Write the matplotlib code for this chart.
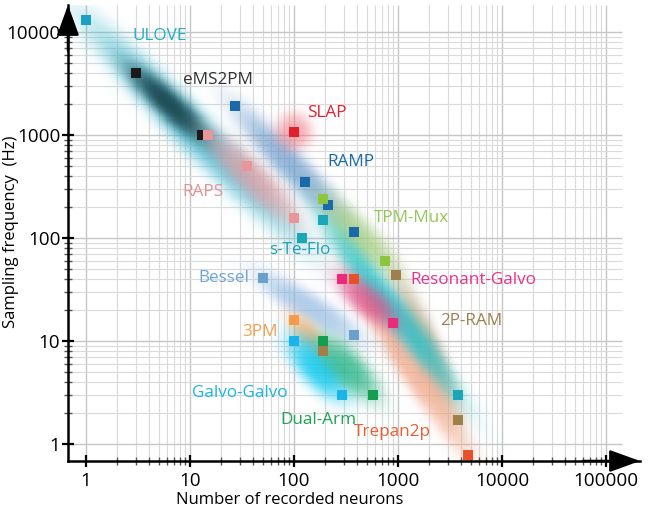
import numpy as np
import matplotlib
matplotlib.use("Agg")
import matplotlib.pyplot as plt
from matplotlib.colors import to_rgb

plt.rcParams['font.family'] = ['Open Sans', 'DejaVu Sans']

# ---------------- data ----------------
techniques = ["ULOVE", "eMS2PM", "RAPS", "RAMP", "SLAP", "TPM-Mux", "s-Te-Flo",
              "2P-RAM", "Trepan2p", "Resonant-Galvo", "Bessel", "3PM",
              "Galvo-Galvo", "Dual-Arm"]

# measured points (neurons, Hz)
pts_ULOVE = [(1, 13000)]
pts_eMS2PM = [(3, 4000), (13, 1000)]
pts_RAPS = [(15, 1000), (35, 500), (100, 155)]
pts_RAMP = [(27, 1900), (128, 350), (210, 210), (380, 115)]
pts_SLAP = [(100, 1080)]
pts_TPMMux = [(190, 240), (750, 60)]
pts_sTeFlo = [(120, 100), (190, 150), (3800, 3)]
pts_2PRAM = [(950, 44), (190, 8), (3800, 1.7)]
pts_Trepan2p = [(380, 40), (4700, 0.78)]
pts_ResGalvo = [(290, 40), (900, 15)]
pts_Bessel = [(50, 41), (380, 11.5)]
pts_3PM = [(100, 16)]
pts_GalvoGalvo = [(100, 10), (290, 3)]
pts_DualArm = [(190, 10), (580, 3)]

points = [pts_ULOVE, pts_eMS2PM, pts_RAPS, pts_RAMP, pts_SLAP, pts_TPMMux,
          pts_sTeFlo, pts_2PRAM, pts_Trepan2p, pts_ResGalvo, pts_Bessel,
          pts_3PM, pts_GalvoGalvo, pts_DualArm]

# performance range of each technique (start, end)
range_start = [(1, 13000), (3, 4000), (15, 1000), (27, 1900), (100, 1080),
               (190, 240), (190, 150), (950, 44), (380, 40), (290, 40),
               (50, 41), (100, 16), (100, 10), (190, 10)]
range_end = [(115, 95), (13, 1000), (100, 155), (380, 115), (100, 1080),
             (900, 45), (3800, 3), (3800, 1.7), (4700, 0.8), (900, 15),
             (400, 11), (190, 8), (290, 3), (580, 3)]

# label anchor (neurons, Hz)
label_pos = [(5.15, 9140), (18.6, 3420), (13.3, 280), (353, 547), (208, 1635),
             (1333, 156), (114, 76), (5035, 15.6), (876, 1.31), (5260, 39.1),
             (21.2, 40.9), (47.1, 12.2), (30.3, 3.13), (170, 1.71)]

x_ticks = [1, 10, 100, 1000, 10000, 100000]
y_ticks = [1, 10, 100, 1000, 10000]

# ---------------- styles ----------------
point_colors = ["#1aa0c0", "#1a1a1a", "#e8969a", "#1a6aa8", "#e0202a", "#8cc640",
                "#1aa8b8", "#a0804a", "#e8502a", "#ec2a7a", "#6aa0d0", "#f89a4a",
                "#1ab4ea", "#12a050"]
label_colors = ["#1fb0c9", "#333333", "#e39294", "#1a6aa5", "#e3202d", "#97c65a",
                "#1ba3b8", "#9c8050", "#e65f32", "#e8328a", "#6ea3d7", "#f6a050",
                "#1ab5e8", "#1ea352"]
blob_colors = ["#48bcd2", "#123a42", "#e79aa0", "#5f93c8", "#f06a78", "#a8d080",
               "#20c0c8", "#b09a78", "#f0a080", "#e0508a", "#8ab4e0", "#f8b070",
               "#10c8f0", "#20b080"]
blob_alpha = [0.8, 0.85, 0.7, 0.65, 0.55, 0.75, 0.8, 0.65, 0.7, 0.75, 0.65, 0.75,
              0.85, 0.75]
blob_hw = [0.21, 0.14, 0.17, 0.16, 0.19, 0.18, 0.15, 0.15, 0.15, 0.16, 0.15,
           0.13, 0.19, 0.18]
blob_ext = [0.05, 0.12, 0.06, 0.06, 0.19, 0.06, 0.06, 0.06, 0.06, 0.08, 0.1,
            0.08, 0.08, 0.08]
blob_order = [7, 8, 0, 1, 2, 3, 4, 5, 6, 9, 10, 11, 12, 13]

# ---------------- figure ----------------
fig = plt.figure(figsize=(6.53, 5.12), dpi=100)
ax = fig.add_axes([68 / 653, 51 / 512, 572 / 653, 456 / 512])
ax.set_xscale('log')
ax.set_yscale('log')
XMIN, XMAX, YMIN, YMAX = 0.671, 212000, 0.684, 18300
ax.set_xlim(XMIN, XMAX)
ax.set_ylim(YMIN, YMAX)

# grid
xminor = [m * t for t in x_ticks[:-1] for m in range(2, 10)]
yminor = [m * t for t in y_ticks[:-1] for m in range(2, 10)]
ax.vlines(xminor, YMIN, YMAX, colors='#dadada', lw=0.8, zorder=0.5)
ax.vlines(x_ticks, YMIN, YMAX, colors='#c6c6c6', lw=1.0, zorder=0.5)
ax.hlines(yminor, XMIN, 142000, colors='#dadada', lw=0.8, zorder=0.5)
ax.hlines(y_ticks, XMIN, 142000, colors='#c6c6c6', lw=1.0, zorder=0.5)

# blobs composited in log space
nx, ny = 560, 450
lxe = np.linspace(np.log10(XMIN), np.log10(XMAX), nx + 1)
lye = np.linspace(np.log10(YMIN), np.log10(YMAX), ny + 1)
lxc = 0.5 * (lxe[1:] + lxe[:-1])
lyc = 0.5 * (lye[1:] + lye[:-1])
GX, GY = np.meshgrid(lxc, lyc)
Cacc = np.zeros((ny, nx, 3))
Aacc = np.zeros((ny, nx))
for i in blob_order:
    a0 = np.log10(np.array(range_start[i], float))
    a1 = np.log10(np.array(range_end[i], float))
    c = 0.5 * (a0 + a1)
    dvec = a1 - a0
    dist = np.hypot(*dvec)
    if dist < 1e-9:
        d = np.array([1.0, 0.0])
        L = blob_ext[i]
    else:
        d = dvec / dist
        L = dist / 2 + blob_ext[i]
    n = np.array([-d[1], d[0]])
    u = (GX - c[0]) * d[0] + (GY - c[1]) * d[1]
    v = (GX - c[0]) * n[0] + (GY - c[1]) * n[1]
    r2 = (u / L) ** 2 + (v / blob_hw[i]) ** 2
    a = blob_alpha[i] * np.exp(-1.3 * r2 ** 1.5)
    col = np.array(to_rgb(blob_colors[i]))
    Cacc = col[None, None, :] * a[..., None] + Cacc * (1 - a[..., None])
    Aacc = a + Aacc * (1 - a)
rgb = np.where(Aacc[..., None] > 1e-6, Cacc / np.maximum(Aacc[..., None], 1e-6), 1.0)
rgba = np.dstack([np.clip(rgb, 0, 1), Aacc])
ax.pcolormesh(10 ** lxe, 10 ** lye, rgba, shading='flat', antialiased=False,
              edgecolors='none', zorder=1, rasterized=True)

# points
for i, p in enumerate(points):
    xs = [q[0] for q in p]
    ys = [q[1] for q in p]
    ax.plot(xs, ys, 's', ms=6.5, mew=0, color=point_colors[i], zorder=3)

# labels
for i, name in enumerate(techniques):
    ax.text(label_pos[i][0], label_pos[i][1], name, color=label_colors[i],
            fontsize=12.3, ha='center', va='center', zorder=4)

# axes
for s in ['top', 'right']:
    ax.spines[s].set_visible(False)
for s in ['left', 'bottom']:
    ax.spines[s].set_linewidth(1.8)
ax.set_xticks(x_ticks)
ax.set_xticklabels([str(t) for t in x_ticks])
ax.set_yticks(y_ticks)
ax.set_yticklabels([str(t) for t in y_ticks])
ax.set_xticks(xminor, minor=True)
ax.set_yticks(yminor, minor=True)
ax.xaxis.set_minor_formatter(matplotlib.ticker.NullFormatter())
ax.yaxis.set_minor_formatter(matplotlib.ticker.NullFormatter())
ax.tick_params(which='major', direction='inout', length=9, width=1.6,
               labelsize=13.6)
ax.tick_params(axis='x', which='major', pad=3.5)
ax.tick_params(axis='y', which='major', pad=1)
ax.tick_params(which='minor', direction='inout', length=6, width=1.0,
               color='#555555')

arrow = dict(arrowstyle='-|>,head_length=1.1,head_width=0.4', lw=1.8,
             color='black', mutation_scale=17, shrinkA=0, shrinkB=0)
ax.annotate('', xy=(0, 1.0), xytext=(0, 0.9), xycoords='axes fraction',
            arrowprops=arrow, annotation_clip=False)
ax.annotate('', xy=(1.0, 0), xytext=(0.9, 0), xycoords='axes fraction',
            arrowprops=arrow, annotation_clip=False)

ax.set_xlabel('Number of recorded neurons', fontsize=12)
ax.set_ylabel('Sampling frequency  (Hz)', fontsize=12)
ax.xaxis.set_label_coords((290 - 68) / 572, -(492 - 461) / 456)
ax.yaxis.set_label_coords(-(68 - 19) / 572, (461 - 232) / 456)

fig.savefig('out.png', dpi=100)
